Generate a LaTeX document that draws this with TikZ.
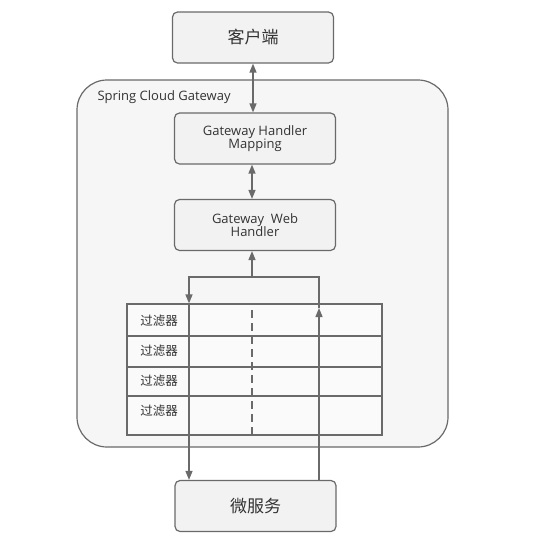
\documentclass[tikz,border=0pt]{standalone}
\usepackage{fontspec}
\setmainfont{Open Sans}
\newfontfamily\cjk{Noto Sans CJK SC}
\usetikzlibrary{arrows.meta}
\definecolor{ln}{HTML}{6A6A6A}
\definecolor{boxfill}{HTML}{F2F2F2}
\definecolor{outerfill}{HTML}{F6F6F6}
\begin{document}
\begin{tikzpicture}[x=1pt,y=-1pt,
  every node/.style={text=black!80},
  rbox/.style={draw=ln,line width=1.2pt,fill=boxfill,rounded corners=5pt,minimum width=161pt,minimum height=51pt,inner sep=0pt,align=center},
  conn/.style={draw=ln,line width=1.3pt},
  tip/.style={-{Triangle[length=9pt,width=7pt]}},
  dtip/.style={{Triangle[length=9pt,width=7pt]}-{Triangle[length=9pt,width=7pt]}}
]
\useasboundingbox (0,0) rectangle (551,539);
% outer gateway region
\node[draw=ln,line width=1.2pt,fill=outerfill,rounded corners=30pt,minimum width=371pt,minimum height=367pt,inner sep=0pt] (gw) at (262.5,263.5) {};
\node[anchor=west,font=\fontsize{13}{14}\selectfont] (gwlabel) at (94,97) {Spring Cloud Gateway};
% boxes
\node[rbox,font=\cjk\fontsize{17}{20}\selectfont] (client) at (253,37.5) {客户端};
\node[rbox,font=\fontsize{13}{13}\selectfont] (ghm) at (255,138.5) {Gateway Handler\\Mapping};
\node[rbox,font=\fontsize{13}{13}\selectfont] (gwh) at (255,225) {Gateway\ \ Web\\Handler};
\node[rbox,font=\cjk\fontsize{17}{20}\selectfont] (ms) at (255.5,506) {微服务};
% filter table
\node[draw=ln,line width=1.2pt,fill=white!50!outerfill,minimum width=255pt,minimum height=131pt,inner sep=0pt] (tbl) at (254.5,369.5) {};
\coordinate (colL) at (189,0);
\coordinate (colR) at (319,0);
\coordinate (colD) at (252,0);
\foreach \y in {336,367,396}{\draw[ln,line width=1.2pt] (tbl.west |- 0,\y) -- (tbl.east |- 0,\y);}
\draw[ln,line width=1.2pt] (colL |- tbl.north) -- (colL |- tbl.south);
\draw[ln,line width=1.2pt,dash pattern=on 8pt off 5pt] (colD |- tbl.north) ++(0,7) -- (colD |- tbl.south);
\foreach \y/\n in {321/f1,351/f2,381/f3,411/f4}{\node[font=\cjk\fontsize{12.5}{13}\selectfont] (\n) at (159,\y) {过滤器};}
% connectors
\draw[conn,dtip] (client.south) -- (ghm.north -| client.south);
\draw[conn,dtip] (ghm.south -| 252,0) -- (gwh.north -| 252,0);
\coordinate (looptop) at (252,277);
\coordinate (uptip) at (319,308);
\draw[conn,tip] (looptop) -- (gwh.south -| looptop);
\draw[conn,tip] (uptip) -- (colR |- looptop) -- (colL |- looptop) -- (colL |- tbl.north);
\draw[conn,tip] (colR |- ms.north) -- (uptip);
\draw[conn,tip] (colL |- tbl.south) -- (colL |- ms.north);
\end{tikzpicture}
\end{document}
